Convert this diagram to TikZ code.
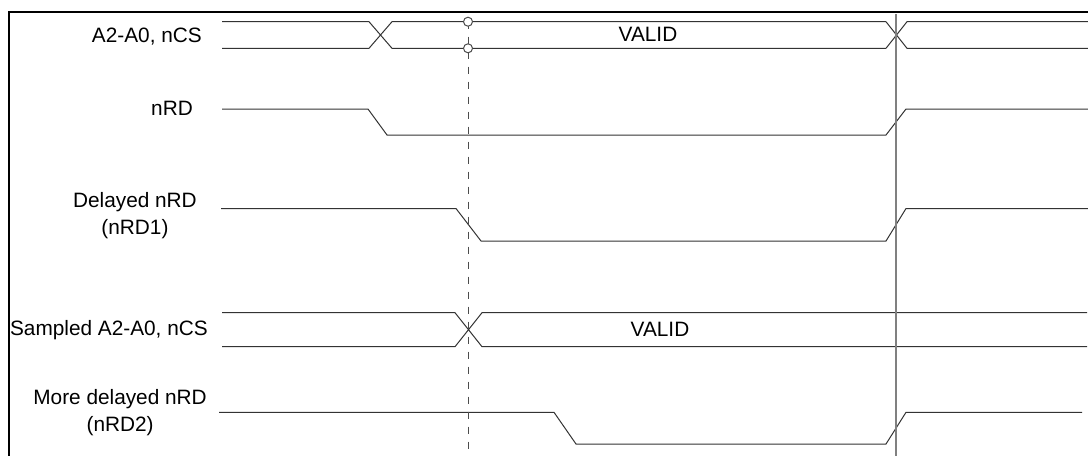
\documentclass[tikz,border=0pt]{standalone}
\usepackage{fontspec}
\setmainfont{Liberation Sans}
\begin{document}
\begin{tikzpicture}[x=1pt,y=-1pt,
    every node/.style={font=\fontsize{20.8}{27}\selectfont,inner sep=0pt},
    sig/.style={line width=1pt,black!80},
    marker/.style={line width=1.4pt,black!50}]
  \useasboundingbox (0,0) rectangle (1088,456);
  \draw[line width=2.4pt] (1088,12) -- (9,12) -- (9,456);

  % signal names
  \node[anchor=east] (bus) at (202,37) {A2-A0, nCS};
  \node[anchor=east] (rd) at (193,108) {nRD};
  \node[anchor=east,align=center] (rda) at (197,216) {Delayed nRD\\(nRD1)};
  \node[anchor=east] (sbus) at (208,330) {Sampled A2-A0, nCS};
  \node[anchor=east,align=center] (rdb) at (207,413) {More delayed nRD\\(nRD2)};

  % address bus and its sampled copy
  \foreach \t/\b/\xa/\xb/\xc/\xd/\xe in {21.7/48.3/222/369/392/886/1088, 312.7/346.7/222/455/482/1087/1087}{
    \draw[sig] (\xa,\t) -- (\xb,\t) -- (\xc,\b) -- (\xd,\b);
    \draw[sig] (\xa,\b) -- (\xb,\b) -- (\xc,\t) -- (\xd,\t);
  }
  \draw[sig] (886,48.3) -- (907,21.7) -- (1088,21.7);
  \draw[sig] (886,21.7) -- (907,48.3) -- (1088,48.3);
  \node (valid) at (648,34.5) {VALID};
  \node (svalid) at (660,329.5) {VALID};

  % read strobes
  \foreach \h/\l/\xa/\xb/\xc/\xe in {109/135/222/368/387/1088, 208.5/241/221/456/481/1088, 412.3/444/219/554/576/1082}{
    \draw[sig] (\xa,\h) -- (\xb,\h) -- (\xc,\l) -- (886,\l) -- (906,\h) -- (\xe,\h);
  }

  % sample point and end of cycle
  \draw[black!70,line width=1pt,dash pattern=on 7pt off 8pt] (468,21.7) -- (468,456);
  \draw[black!70,line width=1pt,fill=white] (468,21.7) circle (4.5) (468,48.3) circle (4.5);
  \draw[marker] (896,14) -- (896,456);
\end{tikzpicture}
\end{document}
